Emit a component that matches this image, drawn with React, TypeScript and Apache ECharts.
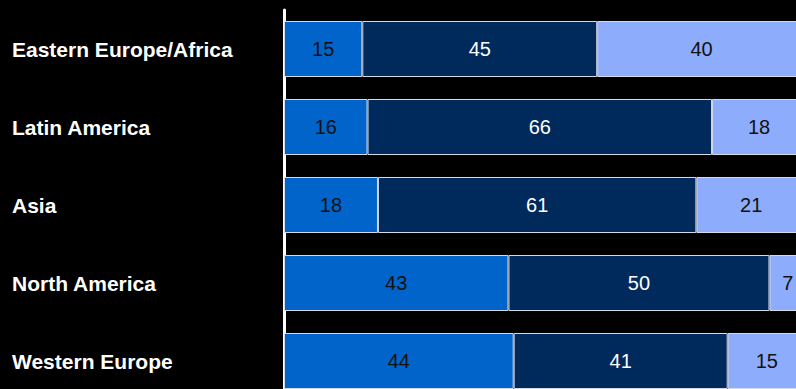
import React, { useEffect, useRef } from "react";
import * as echarts from "echarts";

const categories = ["Eastern Europe/Africa", "Latin America", "Asia", "North America", "Western Europe"];
const seriesA = [15, 16, 18, 43, 44];
const seriesB = [45, 66, 61, 50, 41];
const seriesC = [40, 18, 21, 7, 15];
const colors = ["#0064CA", "#00295C", "#8DACFB"];
const labelColors = ["#111", "#fff", "#111"];

export default function App() {
  const ref = useRef<HTMLDivElement>(null);
  useEffect(() => {
    document.body.style.margin = "0";
    document.body.style.background = "#000";
    document.body.style.overflow = "hidden";
    const chart = echarts.init(ref.current!, undefined, { renderer: "svg" });
    const mk = (name: string, data: number[], i: number) => ({
      name,
      type: "bar" as const,
      stack: "total",
      data,
      barWidth: 56,
      itemStyle: { color: colors[i], borderColor: "#d4dae6", borderWidth: 1 },
      label: {
        show: true,
        position: "inside" as const,
        color: labelColors[i],
        fontSize: 20,
        fontFamily: "'Liberation Sans', Arial, sans-serif",
      },
    });
    chart.setOption({
      animation: false,
      backgroundColor: "#000",
      grid: { left: 284, top: 10, width: 522, height: 390, containLabel: false },
      xAxis: { type: "value", min: 0, max: 100, show: false },
      yAxis: {
        type: "category",
        data: categories,
        inverse: true,
        offset: 2.5,
        axisLine: { show: true, lineStyle: { color: "#fff", width: 3 } },
        axisTick: { show: false },
        splitLine: { show: false },
        axisLabel: {
          align: "left",
          margin: 269.5,
          color: "#fff",
          fontSize: 21,
          fontWeight: "bold",
          fontFamily: "'Liberation Sans', Arial, sans-serif",
        },
      },
      series: [mk("A", seriesA, 0), mk("B", seriesB, 1), mk("C", seriesC, 2)],
    });
    return () => chart.dispose();
  }, []);
  return (
    <div style={{ position: "fixed", left: 0, top: 0, width: 796, height: 389, overflow: "hidden", background: "#000" }}>
      <div ref={ref} style={{ position: "absolute", left: 0, top: 0, width: 830, height: 400 }} />
    </div>
  );
}
